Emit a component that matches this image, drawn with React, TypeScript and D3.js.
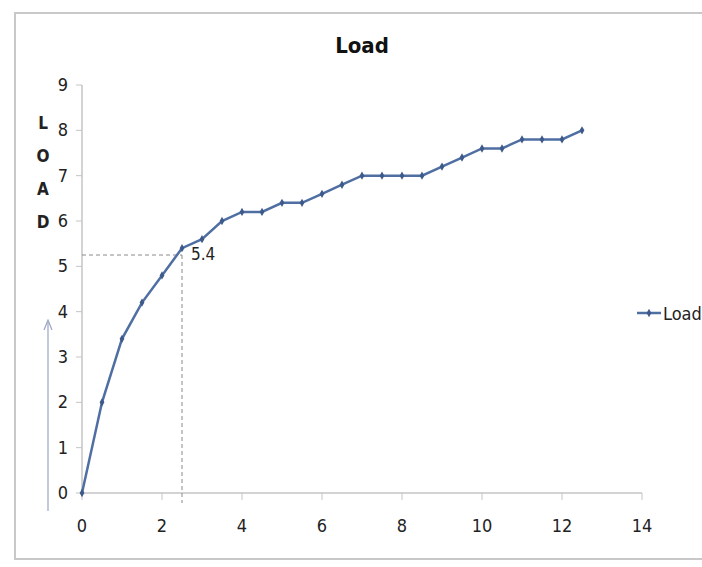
import * as d3 from "d3"
import React from "react"

// chart values
const loadX = [0, 0.5, 1, 1.5, 2, 2.5, 3, 3.5, 4, 4.5, 5, 5.5, 6, 6.5, 7, 7.5, 8, 8.5, 9, 9.5, 10, 10.5, 11, 11.5, 12, 12.5]
const loadY = [0, 2, 3.4, 4.2, 4.8, 5.4, 5.6, 6.0, 6.2, 6.2, 6.4, 6.4, 6.6, 6.8, 7.0, 7.0, 7.0, 7.0, 7.2, 7.4, 7.6, 7.6, 7.8, 7.8, 7.8, 8.0]
const xTicks = [0, 2, 4, 6, 8, 10, 12, 14]
const yTicks = [0, 1, 2, 3, 4, 5, 6, 7, 8, 9]
const guide = { x: 2.5, y: 5.25, label: "5.4" }
const axisLetters = ["L", "O", "A", "D"]

const W = 702, H = 567
const plot = { left: 82, right: 642, top: 85, bottom: 493 }
const font = "'Liberation Sans Narrow', 'DejaVu Sans Condensed', sans-serif"
const lineColor = "#4f6fa3"

export default function App() {
  const x = d3.scaleLinear().domain([0, 14]).range([plot.left, plot.right])
  const y = d3.scaleLinear().domain([0, 9]).range([plot.bottom, plot.top])

  const points = loadX.map((v, i) => ({ x: v, y: loadY[i] }))
  const line = d3.line<{ x: number, y: number }>()
    .x(d => x(d.x))
    .y(d => y(d.y))
  const marker = d3.symbol(d3.symbolDiamond, 20)()

  return (
    <svg width={W} height={H} style={{ position: "absolute", left: 0, top: 0, background: "#fff" }}>
      {/* outer chart frame, right side runs off the page */}
      <rect x={15} y={13} width={W + 10} height={546} fill="none" stroke="#c8c8c8" strokeWidth={2} />

      <text x={362} y={53} textAnchor="middle" fontFamily={font} fontWeight="bold" fontSize={22} fill="#111">Load</text>

      {/* axes */}
      <line x1={plot.left} x2={plot.left} y1={y(9)} y2={plot.bottom} stroke="#c4c4c4" strokeWidth={1.5} />
      <line x1={plot.left} x2={plot.right} y1={plot.bottom} y2={plot.bottom} stroke="#c4c4c4" strokeWidth={1.5} />
      {yTicks.map(t => (
        <g key={"y" + t}>
          <line x1={plot.left - 6} x2={plot.left} y1={y(t)} y2={y(t)} stroke="#c4c4c4" />
          <text x={plot.left - 14} y={y(t) + 6} textAnchor="end" fontFamily={font} fontSize={18} fill="#222">{t}</text>
        </g>
      ))}
      {xTicks.map(t => (
        <g key={"x" + t}>
          <line x1={x(t)} x2={x(t)} y1={plot.bottom} y2={plot.bottom + 7} stroke="#c4c4c4" />
          <text x={x(t)} y={plot.bottom + 39} textAnchor="middle" fontFamily={font} fontSize={18} fill="#222">{t}</text>
        </g>
      ))}

      {/* vertical axis title, one letter per row */}
      {axisLetters.map((c, i) => (
        <text key={c} x={43} y={129 + i * 33} textAnchor="middle" fontFamily={font} fontWeight="bold" fontSize={17} fill="#222">{c}</text>
      ))}
      {/* hand drawn arrow */}
      <line x1={48} x2={48} y1={511} y2={322} stroke="#9aa6c4" strokeWidth={1.2} />
      <path d="M44,330 L48,320 L52,330" fill="none" stroke="#9aa6c4" strokeWidth={1.2} />

      {/* guide lines */}
      <line x1={plot.left} x2={x(guide.x)} y1={y(guide.y)} y2={y(guide.y)} stroke="#8a8a8a" strokeDasharray="4,3" />
      <line x1={x(guide.x)} x2={x(guide.x)} y1={y(guide.y)} y2={plot.bottom + 10} stroke="#8a8a8a" strokeDasharray="4,3" />
      <text x={x(guide.x) + 9} y={y(guide.y) + 5} fontFamily={font} fontSize={17} fill="#222">{guide.label}</text>

      {/* series */}
      <path d={line(points) || ""} fill="none" stroke={lineColor} strokeWidth={2.5} />
      {points.map((p, i) => (
        <path key={i} d={marker || ""} transform={`translate(${x(p.x)},${y(p.y)})`} fill="#3d5a8a" />
      ))}

      {/* legend */}
      <line x1={637} x2={661} y1={313} y2={313} stroke={lineColor} strokeWidth={2.5} />
      <path d={marker || ""} transform="translate(649,313)" fill="#3d5a8a" />
      <text x={663} y={320} fontFamily={font} fontSize={18} fill="#222">Load</text>
    </svg>
  )
}
